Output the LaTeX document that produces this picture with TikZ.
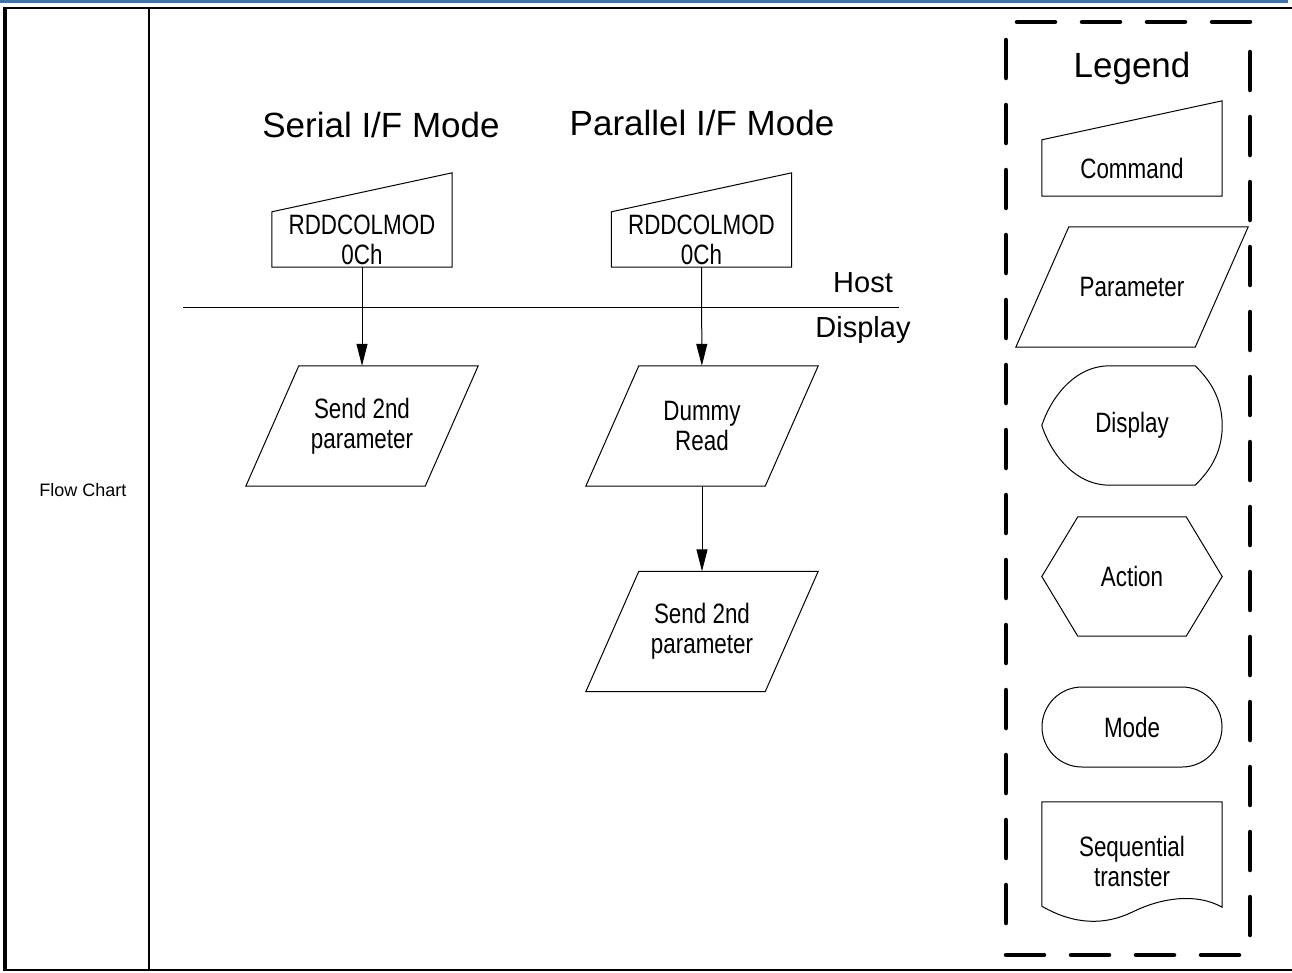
\documentclass[tikz,border=0pt]{standalone}
\usepackage{fontspec}
\setmainfont{Liberation Sans}
\newfontfamily\narrowsf[FakeStretch=0.8]{Liberation Sans}
\usepackage{tikz}
\usetikzlibrary{arrows.meta,positioning}
\definecolor{ink}{RGB}{0,0,0}
\definecolor{pagerule}{RGB}{68,114,176}
\tikzset{
  shp/.style={draw=ink,line width=1pt},
  lbl/.style={font=\narrowsf\fontsize{28}{30}\selectfont,align=center,inner sep=0pt},
  cmd/.style={lbl,minimum width=180pt,minimum height=55pt},
  param/.style={lbl,minimum width=232pt,minimum height=120pt},
  legshape/.style={lbl,minimum width=180pt},
  head/.style={font=\fontsize{35}{40}\selectfont,inner sep=0pt},
  side/.style={font=\fontsize{29}{32}\selectfont,inner sep=0pt},
  arr/.style={-{Triangle[length=22pt,width=11pt]},line width=1pt,ink},
  frame/.style={draw=ink},
  legendbox/.style={draw=ink,line width=4.5pt,line cap=round,dash pattern=on 38pt off 27pt},
}
% outlines drawn round the named nodes
\newcommand{\cmdoutline}[1]{\draw[shp] (#1.north west) -- (#1.south west) -- (#1.south east)
  -- ([yshift=39pt]#1.north east) -- cycle;}
\newcommand{\paroutline}[1]{\draw[shp] ([xshift=53pt]#1.north west) -- (#1.north east)
  -- ([xshift=-53pt]#1.south east) -- (#1.south west) -- cycle;}
\newcommand{\hexoutline}[1]{\draw[shp] (#1.west) -- ([xshift=36pt]#1.north west)
  -- ([xshift=-36pt]#1.north east) -- (#1.east) -- ([xshift=-36pt]#1.south east)
  -- ([xshift=36pt]#1.south west) -- cycle;}
\newcommand{\dispoutline}[1]{\draw[shp] ([xshift=68pt]#1.north west) -- ([xshift=-27pt]#1.north east)
  .. controls ([xshift=-15pt,yshift=-12pt]#1.north east) and ([yshift=30pt]#1.east) .. (#1.east)
  .. controls ([yshift=-30pt]#1.east) and ([xshift=-15pt,yshift=12pt]#1.south east)
  .. ([xshift=-27pt]#1.south east) -- ([xshift=68pt]#1.south west)
  .. controls ([xshift=31pt]#1.south west) and ([xshift=8pt,yshift=-25pt]#1.west) .. (#1.west)
  .. controls ([xshift=8pt,yshift=25pt]#1.west) and ([xshift=31pt]#1.north west)
  .. ([xshift=68pt]#1.north west) -- cycle;}
\newcommand{\seqoutline}[1]{\draw[shp] ([yshift=14pt]#1.south west) -- (#1.north west) -- (#1.north east)
  -- ([yshift=13pt]#1.south east)
  .. controls ([xshift=-27pt,yshift=28pt]#1.south east) and ([xshift=-62pt,yshift=22pt]#1.south east)
  .. ([yshift=8pt]#1.south)
  .. controls ([xshift=-27pt,yshift=-5pt]#1.south) and ([xshift=33pt,yshift=-5pt]#1.south west)
  .. ([yshift=14pt]#1.south west);}

\begin{document}
\begin{tikzpicture}[x=1pt,y=-1pt]
\useasboundingbox (0,0) rectangle (1292,972);
% page rule and table
\draw[pagerule,line width=2.5pt] (0,1.5) -- (1288,1.5);
\draw[frame,line width=2pt] (3,8) -- (1292,8);
\draw[frame,line width=2.5pt] (3,970) -- (1292,970);
\draw[frame,line width=3.5pt] (5,7) -- (5,971);
\draw[frame,line width=2pt] (149,8) -- (149,970);
\node[font=\fontsize{18}{20}\selectfont] (rowlab) at (83,490) {Flow Chart};

% mode titles
\node[head] (serT) at (381,125) {Serial I/F Mode};
\node[head] (parT) at (702,123) {Parallel I/F Mode};

% host / display boundary
\coordinate (hdL) at (183,307);
\coordinate (hdR) at (899,307);
\draw[line width=1pt] (hdL) -- (hdR);
\node[side] (host) at (863,283) {Host};
\node[side] (disp) at (863,330) {Display};

% serial flow
\node[cmd] (cmdS) at (362,239.5) {RDDCOLMOD\\0Ch};
\node[param] (sendS) at (362,426) {Send 2nd\\parameter};
\cmdoutline{cmdS}
\paroutline{sendS}
\draw[arr] (cmdS) -- (sendS);

% parallel flow
\node[cmd] (cmdP) at (701.5,239.5) {RDDCOLMOD\\0Ch};
\node[param] (dummy) at (702,426) {Dummy\\Read};
\node[param] (sendP) at (702,631.5) {Send 2nd\\parameter};
\cmdoutline{cmdP}
\paroutline{dummy}
\paroutline{sendP}
\draw[arr] (cmdP) -- (dummy);
\draw[arr] (dummy) -- (sendP);

% legend frame, one side at a time
\draw[legendbox] (1250,22) -- (1006,22);
\draw[legendbox] (1006,40) -- (1006,940);
\draw[legendbox] (1006,955) -- (1250,955);
\draw[legendbox] (1250,935) -- (1250,50);
\node[head] (legT) at (1132,68) {Legend};
\node[legshape,minimum height=56pt] (lgCmd) at (1132,168) {Command};
\node[param] (lgPar) at (1132,287) {Parameter};
\node[legshape,minimum height=119pt] (lgDisp) at (1132,425.5) {Display};
\node[legshape,minimum height=119pt] (lgAct) at (1132,576.5) {Action};
\node[legshape,shp,minimum height=80pt,rounded corners=40pt] (lgMode) at (1132,727) {Mode};
\node[legshape,minimum height=118pt] (lgSeq) at (1132,861) {Sequential\\transter};
\cmdoutline{lgCmd}
\paroutline{lgPar}
\dispoutline{lgDisp}
\hexoutline{lgAct}
\seqoutline{lgSeq}
\end{tikzpicture}
\end{document}
